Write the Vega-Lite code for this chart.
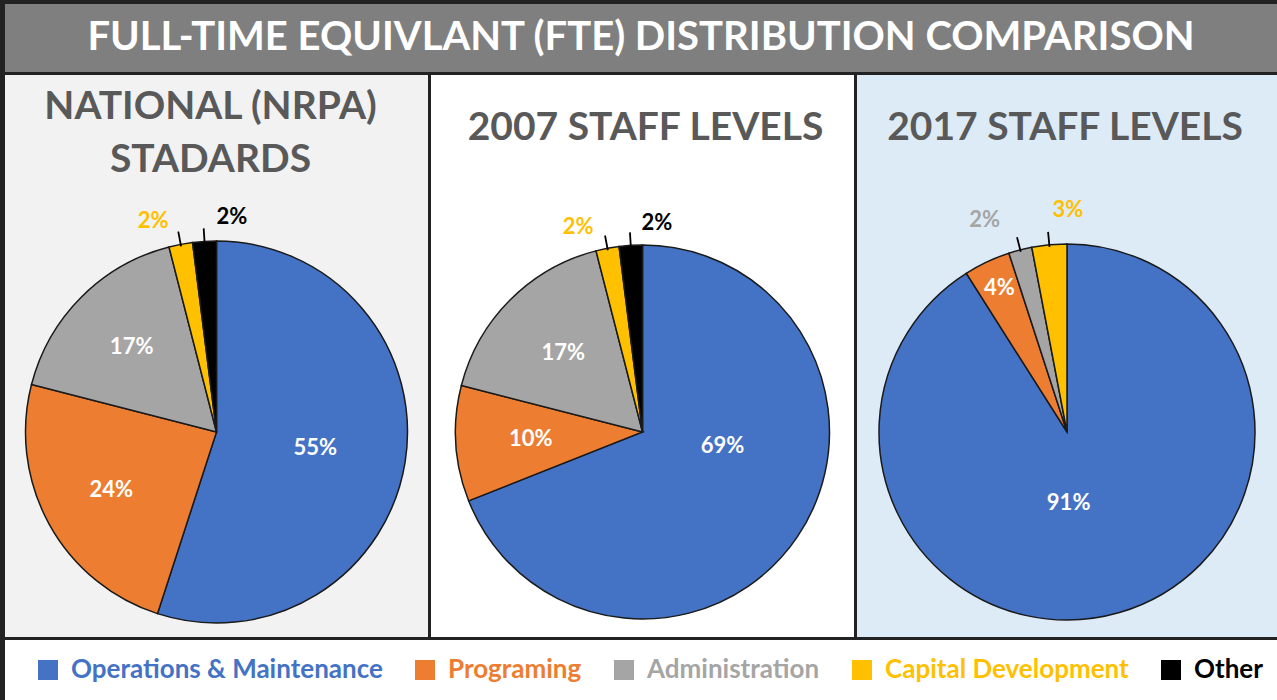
{
  "$schema": "https://vega.github.io/schema/vega-lite/v6.json",
  "background": "#222222",
  "padding": {"left": 5, "top": 4, "right": 0, "bottom": 0},
  "spacing": 3,
  "resolve": {"scale": {"color": "shared"}, "legend": {"color": "independent"}},
  "config": {"view": {"stroke": null}, "text": {"font": "Lato"}},
  "datasets": {
    "fte": [
      {"panel": "nrpa", "category": "Operations & Maintenance", "idx": 1, "share": 0.55},
      {"panel": "nrpa", "category": "Programing", "idx": 2, "share": 0.24},
      {"panel": "nrpa", "category": "Administration", "idx": 3, "share": 0.17},
      {"panel": "nrpa", "category": "Capital Development", "idx": 4, "share": 0.02},
      {"panel": "nrpa", "category": "Other", "idx": 5, "share": 0.02},
      {"panel": "y2007", "category": "Operations & Maintenance", "idx": 1, "share": 0.69},
      {"panel": "y2007", "category": "Programing", "idx": 2, "share": 0.10},
      {"panel": "y2007", "category": "Administration", "idx": 3, "share": 0.17},
      {"panel": "y2007", "category": "Capital Development", "idx": 4, "share": 0.02},
      {"panel": "y2007", "category": "Other", "idx": 5, "share": 0.02},
      {"panel": "y2017", "category": "Operations & Maintenance", "idx": 1, "share": 0.91},
      {"panel": "y2017", "category": "Programing", "idx": 2, "share": 0.04},
      {"panel": "y2017", "category": "Administration", "idx": 3, "share": 0.02},
      {"panel": "y2017", "category": "Capital Development", "idx": 4, "share": 0.03}
    ]
  },
  "vconcat": [
    {
      "width": 1272, "height": 68,
      "view": {"fill": "#7F7F7F"},
      "data": {"values": [{"t": "FULL-TIME EQUIVLANT (FTE) DISTRIBUTION COMPARISON"}]},
      "mark": {"type": "text", "font": "Lato", "fontWeight": "bold", "fontSize": 40, "color": "#FFFFFF"},
      "encoding": {"text": {"field": "t"}}
    },
    {
      "columns": 3,
      "spacing": {"row": 0, "column": 3},
      "bounds": "flush",
      "concat": [
        {
          "width": 423, "height": 152,
          "view": {"fill": "#F2F2F2"},
          "data": {"values": [{"t": "NATIONAL (NRPA)\nSTADARDS"}]},
          "mark": {"type": "text", "lineBreak": "\n", "lineHeight": 53, "font": "Lato", "fontWeight": "bold", "fontSize": 39, "color": "#595959", "dx": -6, "dy": -44},
          "encoding": {"text": {"field": "t"}}
        },
        {
          "width": 423, "height": 152,
          "view": {"fill": "#FFFFFF"},
          "data": {"values": [{"t": "2007 STAFF LEVELS"}]},
          "mark": {"type": "text", "font": "Lato", "fontWeight": "bold", "fontSize": 39, "color": "#595959", "dy": -23, "dx": 3},
          "encoding": {"text": {"field": "t"}}
        },
        {
          "width": 420, "height": 152,
          "view": {"fill": "#DDEBF7"},
          "data": {"values": [{"t": "2017 STAFF LEVELS"}]},
          "mark": {"type": "text", "font": "Lato", "fontWeight": "bold", "fontSize": 39, "color": "#595959", "dy": -23, "dx": -2},
          "encoding": {"text": {"field": "t"}}
        },
        {
          "width": 423, "height": 410,
          "view": {"fill": "#F2F2F2"},
          "data": {"name": "fte"},
          "transform": [{"filter": "datum.panel == 'nrpa'"}],
          "encoding": {
            "theta": {"field": "share", "type": "quantitative", "stack": true},
            "order": {"field": "idx", "type": "quantitative"},
            "detail": {"field": "category"}
          },
          "layer": [
            {
              "mark": {"type": "arc", "outerRadius": 191, "stroke": "#1A1A1A", "strokeWidth": 1.5},
              "encoding": {"color": {"field": "category", "type": "nominal", "scale": {"domain": ["Operations & Maintenance", "Programing", "Administration", "Capital Development", "Other"], "range": ["#4472C4", "#ED7D31", "#A5A5A5", "#FFC000", "#000000"]}, "legend": null}}
            },
            {
              "mark": {"type": "arc", "innerRadius": 189, "outerRadius": 204, "padAngle": 2, "fillOpacity": 0, "stroke": "#000000", "strokeWidth": 1.8},
              "encoding": {"strokeOpacity": {"condition": {"test": "datum.share <= 0.03", "value": 1}, "value": 0}}
            },
            {
              "mark": {"type": "text", "radius": 120, "color": "#FFFFFF", "fontWeight": "bold", "fontSize": 22},
              "encoding": {"text": {"condition": {"test": "datum.share > 0.03 && datum.category != 'Operations & Maintenance'", "field": "share", "type": "quantitative", "format": ".0%"}, "value": ""}}
            },
            {
              "mark": {"type": "text", "radius": 100, "color": "#FFFFFF", "fontWeight": "bold", "fontSize": 22},
              "encoding": {"text": {"condition": {"test": "datum.category == 'Operations & Maintenance'", "field": "share", "type": "quantitative", "format": ".0%"}, "value": ""}}
            },
            {
              "mark": {"type": "text", "dx": -23, "fontWeight": "bold", "fontSize": 22},
              "encoding": {
                "radius": {"field": "share", "type": "quantitative", "scale": {"type": "linear", "domain": [0.03, 0.035], "range": [215, 0], "clamp": true}},
                "text": {"condition": {"test": "datum.category == 'Capital Development'", "field": "share", "type": "quantitative", "format": ".0%"}, "value": ""},
                "color": {"field": "category", "type": "nominal", "legend": null}
              }
            },
            {
              "mark": {"type": "text", "dx": 29, "fontWeight": "bold", "fontSize": 22},
              "encoding": {
                "radius": {"field": "share", "type": "quantitative", "scale": {"type": "linear", "domain": [0.03, 0.035], "range": [215, 0], "clamp": true}},
                "text": {"condition": {"test": "datum.category == 'Other'", "field": "share", "type": "quantitative", "format": ".0%"}, "value": ""},
                "color": {"field": "category", "type": "nominal", "legend": null}
              }
            }
          ]
        },
        {
          "width": 423, "height": 410,
          "view": {"fill": "#FFFFFF"},
          "data": {"name": "fte"},
          "transform": [{"filter": "datum.panel == 'y2007'"}],
          "encoding": {
            "theta": {"field": "share", "type": "quantitative", "stack": true},
            "order": {"field": "idx", "type": "quantitative"},
            "detail": {"field": "category"}
          },
          "layer": [
            {
              "mark": {"type": "arc", "outerRadius": 187, "stroke": "#1A1A1A", "strokeWidth": 1.5},
              "encoding": {"color": {"field": "category", "type": "nominal", "legend": null}}
            },
            {
              "mark": {"type": "arc", "innerRadius": 185, "outerRadius": 200, "padAngle": 2, "fillOpacity": 0, "stroke": "#000000", "strokeWidth": 1.8},
              "encoding": {"strokeOpacity": {"condition": {"test": "datum.share <= 0.03", "value": 1}, "value": 0}}
            },
            {
              "mark": {"type": "text", "radius": 112, "color": "#FFFFFF", "fontWeight": "bold", "fontSize": 22},
              "encoding": {"text": {"condition": {"test": "datum.share > 0.03 && datum.category != 'Operations & Maintenance'", "field": "share", "type": "quantitative", "format": ".0%"}, "value": ""}}
            },
            {
              "mark": {"type": "text", "radius": 81, "dx": 13, "dy": -32, "color": "#FFFFFF", "fontWeight": "bold", "fontSize": 22},
              "encoding": {"text": {"condition": {"test": "datum.category == 'Operations & Maintenance'", "field": "share", "type": "quantitative", "format": ".0%"}, "value": ""}}
            },
            {
              "mark": {"type": "text", "dx": -24, "dy": 6, "fontWeight": "bold", "fontSize": 22},
              "encoding": {
                "radius": {"field": "share", "type": "quantitative", "scale": {"type": "linear", "domain": [0.03, 0.035], "range": [215, 0], "clamp": true}},
                "text": {"condition": {"test": "datum.category == 'Capital Development'", "field": "share", "type": "quantitative", "format": ".0%"}, "value": ""},
                "color": {"field": "category", "type": "nominal", "legend": null}
              }
            },
            {
              "mark": {"type": "text", "dx": 28, "dy": 6, "fontWeight": "bold", "fontSize": 22},
              "encoding": {
                "radius": {"field": "share", "type": "quantitative", "scale": {"type": "linear", "domain": [0.03, 0.035], "range": [215, 0], "clamp": true}},
                "text": {"condition": {"test": "datum.category == 'Other'", "field": "share", "type": "quantitative", "format": ".0%"}, "value": ""},
                "color": {"field": "category", "type": "nominal", "legend": null}
              }
            }
          ]
        },
        {
          "width": 420, "height": 410,
          "view": {"fill": "#DDEBF7"},
          "data": {"name": "fte"},
          "transform": [{"filter": "datum.panel == 'y2017'"}],
          "encoding": {
            "theta": {"field": "share", "type": "quantitative", "stack": true},
            "order": {"field": "idx", "type": "quantitative"},
            "detail": {"field": "category"}
          },
          "layer": [
            {
              "mark": {"type": "arc", "outerRadius": 188, "stroke": "#1A1A1A", "strokeWidth": 1.5},
              "encoding": {"color": {"field": "category", "type": "nominal", "legend": null}}
            },
            {
              "mark": {"type": "arc", "innerRadius": 186, "outerRadius": 201, "padAngle": 2, "fillOpacity": 0, "stroke": "#000000", "strokeWidth": 1.8},
              "encoding": {"strokeOpacity": {"condition": {"test": "datum.share <= 0.03", "value": 1}, "value": 0}}
            },
            {
              "mark": {"type": "text", "radius": 159, "color": "#FFFFFF", "fontWeight": "bold", "fontSize": 22},
              "encoding": {"text": {"condition": {"test": "datum.share > 0.03 && datum.category != 'Operations & Maintenance'", "field": "share", "type": "quantitative", "format": ".0%"}, "value": ""}}
            },
            {
              "mark": {"type": "text", "radius": 74, "dx": -19, "color": "#FFFFFF", "fontWeight": "bold", "fontSize": 22},
              "encoding": {"text": {"condition": {"test": "datum.category == 'Operations & Maintenance'", "field": "share", "type": "quantitative", "format": ".0%"}, "value": ""}}
            },
            {
              "mark": {"type": "text", "dx": -29, "dy": -4, "fontWeight": "bold", "fontSize": 22},
              "encoding": {
                "radius": {"field": "share", "type": "quantitative", "scale": {"type": "linear", "domain": [0.03, 0.035], "range": [215, 0], "clamp": true}},
                "text": {"condition": {"test": "datum.category == 'Administration'", "field": "share", "type": "quantitative", "format": ".0%"}, "value": ""},
                "color": {"field": "category", "type": "nominal", "legend": null}
              }
            },
            {
              "mark": {"type": "text", "dx": 21, "dy": -8, "fontWeight": "bold", "fontSize": 22},
              "encoding": {
                "radius": {"field": "share", "type": "quantitative", "scale": {"type": "linear", "domain": [0.03, 0.035], "range": [215, 0], "clamp": true}},
                "text": {"condition": {"test": "datum.category == 'Capital Development'", "field": "share", "type": "quantitative", "format": ".0%"}, "value": ""},
                "color": {"field": "category", "type": "nominal", "legend": null}
              }
            }
          ]
        }
      ]
    },
    {
      "width": 1272, "height": 60,
      "view": {"fill": "#FFFFFF"},
      "data": {"name": "fte"},
      "transform": [{"filter": "datum.panel == 'nrpa'"}],
      "mark": {"type": "point", "filled": true, "size": 0},
      "encoding": {
        "color": {
          "field": "category", "type": "nominal",
          "legend": {
            "orient": "none", "legendX": 30, "legendY": 17,
            "direction": "horizontal", "title": null,
            "symbolType": "square", "symbolSize": 400, "symbolStrokeWidth": 0, "symbolOpacity": 1,
            "labelFont": "Lato", "labelFontSize": 26, "labelFontWeight": "bold", "labelLimit": 0,
            "labelOffset": 10, "columnPadding": 29,
            "encode": {"labels": {"update": {"fill": {"scale": "color", "field": "value"}}}}
          }
        }
      }
    }
  ]
}
